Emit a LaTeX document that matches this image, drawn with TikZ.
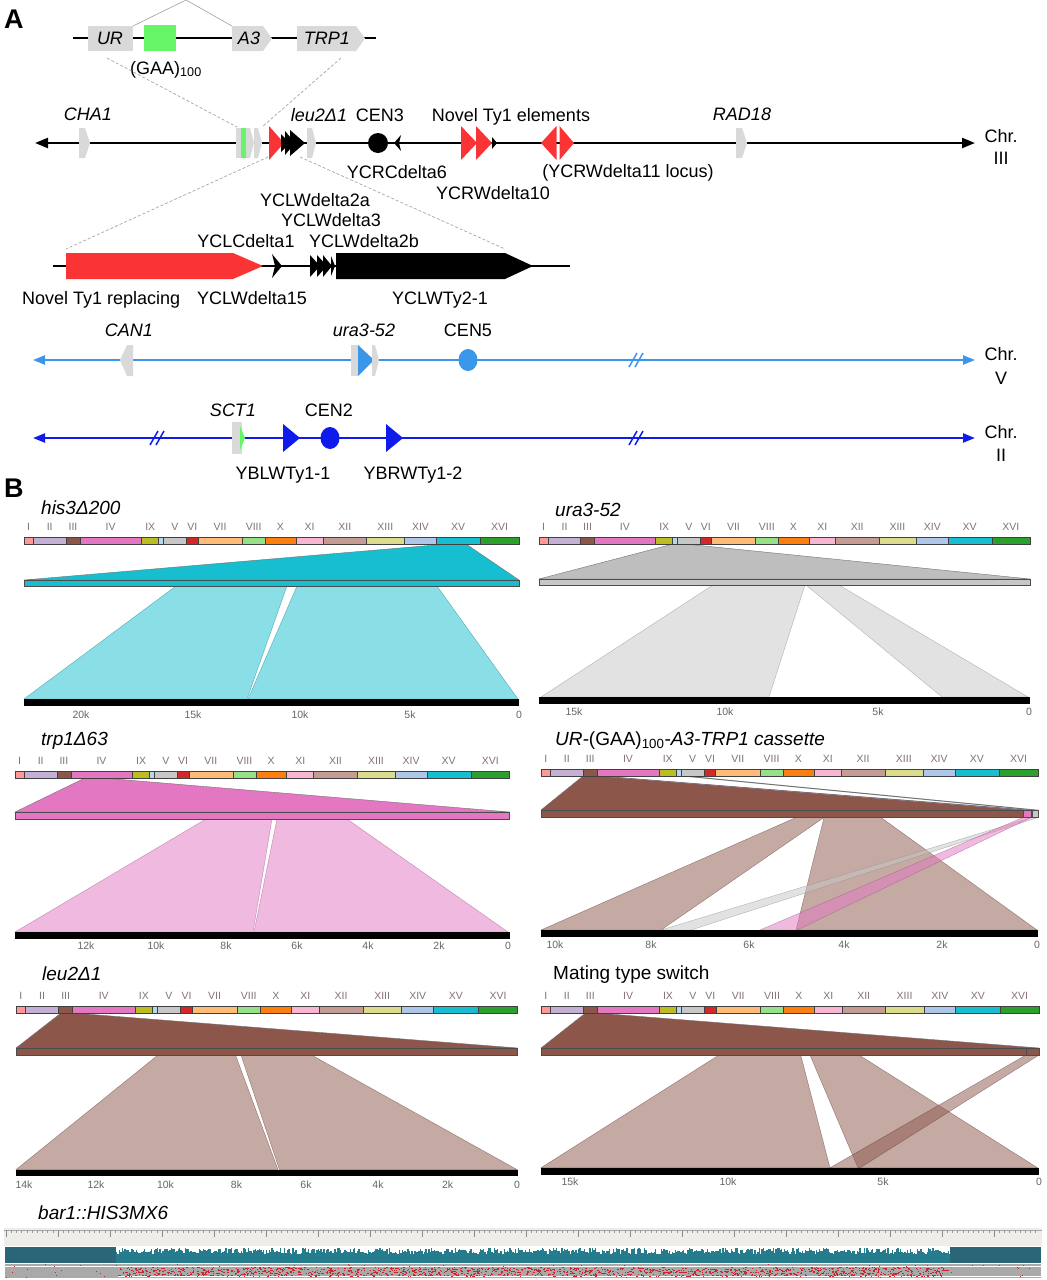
\documentclass[tikz,border=0pt]{standalone}
\usepackage{fontspec}
\setmainfont{Liberation Sans}
\usetikzlibrary{arrows.meta}
\definecolor{cI}{HTML}{FF9896}
\definecolor{cII}{HTML}{C5B0D5}
\definecolor{cIII}{HTML}{8C564B}
\definecolor{cIV}{HTML}{E377C2}
\definecolor{cIX}{HTML}{BCBD22}
\definecolor{cM}{HTML}{B4D8EE}
\definecolor{cV}{HTML}{C7C7C7}
\definecolor{cVI}{HTML}{D62728}
\definecolor{cVII}{HTML}{FFBB78}
\definecolor{cVIII}{HTML}{98DF8A}
\definecolor{cX}{HTML}{FF7F0E}
\definecolor{cXI}{HTML}{F7B6D2}
\definecolor{cXII}{HTML}{C49C94}
\definecolor{cXIII}{HTML}{DBDB8D}
\definecolor{cXIV}{HTML}{AEC7E8}
\definecolor{cXV}{HTML}{17BECF}
\definecolor{cXVI}{HTML}{2CA02C}
\definecolor{romcol}{HTML}{857272}
\definecolor{tickcol}{HTML}{666666}
\definecolor{genegray}{HTML}{D9D9D9}
\definecolor{ggreen}{HTML}{66F566}
\definecolor{tyred}{HTML}{FA3434}
\definecolor{chrV}{HTML}{3A96E8}
\definecolor{chrII}{HTML}{0F1BEA}
\definecolor{igvbg}{HTML}{EFEDE8}
\definecolor{cov}{HTML}{2A6578}
\definecolor{readgray}{HTML}{A9A9A9}
\definecolor{readred}{HTML}{C8282D}
\definecolor{uratop}{HTML}{BEBEBE}
\newcommand\genomebar[5]{%
  \foreach \pa/\pb/\pc in {0/0.019/cI,0.019/0.085/cII,0.085/0.113/cIII,0.113/0.2375/cIV,0.2375/0.272/cIX,0.272/0.282/cM,0.282/0.3283/cV,0.3283/0.3516/cVI,0.3516/0.441/cVII,0.441/0.4874/cVIII,0.4874/0.5495/cX,0.5495/0.6041/cXI,0.6041/0.6922/cXII,0.6922/0.7686/cXIII,0.7686/0.8328/cXIV,0.8328/0.9222/cXV,0.9222/1/cXVI}{%
    \pgfmathsetmacro\xa{#2+(#3-#2)*\pa}%
    \pgfmathsetmacro\xb{#2+(#3-#2)*\pb}%
    \filldraw[fill=\pc,draw=black!75,line width=0.5pt] (\xa,#4) rectangle (\xb,#4+7);
  }%
  \foreach \pp/\pl in {0.0095/I,0.052/II,0.099/III,0.175/IV,0.255/IX,0.305/V,0.34/VI,0.396/VII,0.464/VIII,0.518/X,0.577/XI,0.648/XII,0.730/XIII,0.801/XIV,0.877/XV,0.961/XVI}{%
    \node[roman] (#1-\pl) at ({#2+(#3-#2)*\pp},#5+3.8) {\pl};
  }%
}
\tikzset{
  lab/.style={font=\fontsize{18}{20}\selectfont, inner sep=0pt, anchor=base},
  ilab/.style={lab, font=\fontsize{18}{20}\selectfont\itshape},
  roman/.style={font=\fontsize{10.5}{11}\selectfont, text=romcol, inner sep=0pt, anchor=base},
  tick/.style={font=\fontsize{10.5}{11}\selectfont, text=tickcol, inner sep=0pt, anchor=base},
  ptitle/.style={font=\fontsize{19}{21}\selectfont\itshape, inner sep=0pt, anchor=base west},
  panel/.style={font=\fontsize{27}{28}\selectfont\bfseries, inner sep=0pt, anchor=base west},
  chrline/.style={line width=2.3pt},
  midbar/.style={draw=black!70, line width=0.6pt},
  toppoly/.style={draw=black!55, line width=0.4pt},
  lowpoly/.style={fill opacity=0.5, draw opacity=0.6, line width=0.4pt},
  dashz/.style={gray!70, line width=0.7pt, dash pattern=on 3pt off 2pt},
  brk/.style={line width=1.5pt},
}
\begin{document}
\begin{tikzpicture}[x=1pt,y=-1pt]
\useasboundingbox (0,0) rectangle (1047,1280);
\fill[white] (0,0) rectangle (1047,1280);
\pgfmathsetseed{11}
% ================= Panel A =================
\node[panel] (pA) at (4,28) {A};
% cassette
\coordinate (casL) at (73,38); \coordinate (casR) at (376,38);
\draw[line width=2.3pt] (casL) -- (casR);
\fill[genegray] (88,26) rectangle (133,51);
\fill[ggreen] (144,25) rectangle (176,51);
\fill[genegray] (232,26) -- (263,26) -- (272,38.5) -- (263,51) -- (232,51) -- cycle;
\fill[genegray] (297,26) -- (356,26) -- (365,38.5) -- (356,51) -- (297,51) -- cycle;
\node[ilab] (tUR) at (110,44.5) {UR};
\node[ilab] (tA3) at (249,44.5) {A3};
\node[ilab] (tTRP) at (327,44.5) {TRP1};
\node[lab] (tGAA) at (166,74) {(GAA)\textsubscript{100}};
\draw[gray!75, line width=0.6pt] (133,26) -- (186,0) -- (232,26);
\draw[dashz] (107,58) -- (237,127);
\draw[dashz] (341,58) -- (262,127);
% Chr III
\coordinate (c3L) at (35,143); \coordinate (c3R) at (975,143);
\draw[chrline, {Triangle[length=13pt,width=10pt]}-{Triangle[length=13pt,width=10pt]}] (c3L) -- (c3R);
\fill[genegray] (79,128) -- (85,128) -- (90,143) -- (85,158) -- (79,158) -- cycle;
\fill[genegray] (236,128) rectangle (241,158);
\fill[ggreen] (240.5,128) rectangle (245.5,158);
\fill[genegray] (246,128) -- (250,128) -- (254,143) -- (250,158) -- (246,158) -- cycle;
\fill[genegray] (254,128) -- (258,128) -- (262,143) -- (258,158) -- (254,158) -- cycle;
\fill[tyred] (269,126) -- (284,143) -- (269,160) -- cycle;
\fill[black] (281,134) -- (290,143) -- (281,152) -- cycle;
\fill[black] (285,131) -- (295,143) -- (285,155) -- cycle;
\fill[black] (290,130) -- (305,143) -- (290,156) -- cycle;
\fill[genegray] (307,128) -- (312,128) -- (316,143) -- (312,158) -- (307,158) -- cycle;
\fill[black] (378,143) circle (10);
\fill[black] (394,143) -- (401,135) -- (399,143) -- (401,151) -- cycle;
\fill[tyred] (461,126) -- (477,143) -- (461,160) -- cycle;
\fill[tyred] (476,126) -- (492,143) -- (476,160) -- cycle;
\fill[black] (492,137) -- (497,143) -- (492,149) -- cycle;
\fill[tyred] (541,143) -- (556.5,126) -- (556.5,160) -- cycle;
\fill[tyred] (559.5,126) -- (574,143) -- (559.5,160) -- cycle;
\fill[genegray] (736,128) -- (742,128) -- (747,143) -- (742,158) -- (736,158) -- cycle;
\node[ilab] (tCHA) at (88,120) {CHA1};
\node[ilab] (tleu) at (319,121) {leu2Δ1};
\node[lab] (tCEN3) at (380,121) {CEN3};
\node[lab] (tNovel) at (511,121) {Novel Ty1 elements};
\node[ilab] (tRAD) at (742,120) {RAD18};
\node[lab] (tYCRC6) at (397,178.5) {YCRCdelta6};
\node[lab] (tYCRW10) at (493,199.5) {YCRWdelta10};
\node[lab] (tYCRW11) at (628,177.5) {(YCRWdelta11 locus)};
\node[lab] (tChr3a) at (1001,142.5) {Chr.};
\node[lab] (tChr3b) at (1001,164.5) {III};
% zoom of region
\draw[dashz] (268,157) -- (66,249);
\draw[dashz] (300,157) -- (505,249);
\coordinate (zL) at (53,266); \coordinate (zR) at (570,266);
\draw[line width=2.3pt] (zL) -- (zR);
\fill[tyred] (66,253) -- (233,253) -- (263,266) -- (233,279) -- (66,279) -- cycle;
\fill[black] (272,254) -- (282,266) -- (272,278) -- (275,266) -- cycle;
\fill[black] (310,255) -- (320,266) -- (310,277) -- cycle;
\fill[black] (317,255) -- (327,266) -- (317,277) -- cycle;
\fill[black] (323,255) -- (332,266) -- (323,277) -- cycle;
\fill[black] (331,256) -- (335,266) -- (331,276) -- cycle;
\fill[black] (336,253) -- (505,253) -- (533,266) -- (505,279) -- (336,279) -- cycle;
\node[lab] (tYCLW2a) at (315,206.5) {YCLWdelta2a};
\node[lab] (tYCLW3) at (331,226.5) {YCLWdelta3};
\node[lab] (tYCLW2b) at (364,247) {YCLWdelta2b};
\node[lab] (tYCLC1) at (246,247) {YCLCdelta1};
\node[lab, anchor=base west] (tNovR) at (22,304.5) {Novel Ty1 replacing};
\node[lab, anchor=base west] (tYCLW15) at (197,304.5) {YCLWdelta15};
\node[lab] (tYCLWTy) at (440,304.5) {YCLWTy2-1};
% Chr V
\coordinate (c5L) at (33,360); \coordinate (c5R) at (975,360);
\draw[chrline, chrV, {Triangle[length=12pt,width=9pt]}-{Triangle[length=12pt,width=9pt]}] (c5L) -- (c5R);
\draw[brk, chrV] (629,367) -- (637,353);
\draw[brk, chrV] (635,367) -- (643,353);
\fill[genegray] (120,360) -- (127,345) -- (133,345) -- (133,376) -- (127,376) -- cycle;
\fill[genegray] (351,345) rectangle (358,376);
\fill[chrV] (358,345) -- (374,360) -- (358,376) -- cycle;
\fill[genegray] (372,345) -- (375,345) -- (379,360) -- (375,376) -- (372,376) -- cycle;
\fill[chrV] (468,360) ellipse (9.5 and 11);
\node[ilab] (tCAN) at (129,336.5) {CAN1};
\node[ilab] (tura) at (364,336.5) {ura3-52};
\node[lab] (tCEN5) at (468,336.5) {CEN5};
\node[lab] (tChr5a) at (1001,360.5) {Chr.};
\node[lab] (tChr5b) at (1001,384.5) {V};
% Chr II
\coordinate (c2L) at (33,438); \coordinate (c2R) at (975,438);
\draw[chrline, chrII, {Triangle[length=12pt,width=9pt]}-{Triangle[length=12pt,width=9pt]}] (c2L) -- (c2R);
\draw[brk, chrII] (150,445) -- (158,431);
\draw[brk, chrII] (156,445) -- (164,431);
\draw[brk, chrII] (629,445) -- (637,431);
\draw[brk, chrII] (635,445) -- (643,431);
\fill[genegray] (232,422) rectangle (242,454);
\fill[ggreen] (240,426) -- (245,438) -- (240,450) -- cycle;
\fill[chrII] (283,424) -- (300,438) -- (283,452) -- cycle;
\fill[chrII] (330,438) ellipse (9.5 and 11);
\fill[chrII] (386,424) -- (403,438) -- (386,452) -- cycle;
\node[ilab] (tSCT) at (233,416.5) {SCT1};
\node[lab] (tCEN2) at (329,416) {CEN2};
\node[lab] (tYBL) at (283,479.5) {YBLWTy1-1};
\node[lab] (tYBR) at (413,479.5) {YBRWTy1-2};
\node[lab] (tChr2a) at (1001,438.5) {Chr.};
\node[lab] (tChr2b) at (1001,461.5) {II};
% ================= Panel B =================
\node[panel] (pB) at (4,497.5) {B};
% --- his3 ---
\node[ptitle] (ttHis) at (41,514.5) {his3Δ200};
\fill[cXV, toppoly] (24,580) -- (447,544) -- (466,544) -- (519,580) -- cycle;
\fill[cXV, lowpoly, draw=cXV!70!black] (176,586) -- (287,586) -- (247,699) -- (24,699) -- cycle;
\fill[cXV, lowpoly, draw=cXV!70!black] (297,586) -- (437,586) -- (518,699) -- (248,699) -- cycle;
\filldraw[fill=cXV, midbar] (24,580) rectangle (519,586.5);
\genomebar{g1}{24}{519}{537}{527}
\fill[black] (24,699) rectangle (519,706);
\foreach \tx/\tl in {81/20k,193/15k,300/10k,410/5k,519/0}{\node[tick] (k1-\tl) at (\tx,718.5) {\tl};}
% --- ura3 ---
\node[ptitle] (ttUra) at (555,516.5) {ura3-52};
\fill[uratop, toppoly] (539,579) -- (673,544) -- (685,544) -- (1030,579) -- cycle;
\fill[cV, lowpoly, draw=cV!70!black] (713,585) -- (805,585) -- (769,697) -- (541,697) -- cycle;
\fill[cV, lowpoly, draw=cV!70!black] (806,585) -- (839,585) -- (1028,697) -- (942,697) -- cycle;
\filldraw[fill=cV, midbar] (539,579) rectangle (1030,585);
\genomebar{g2}{539}{1030}{537}{527}
\fill[black] (539,697) rectangle (1030,703.5);
\foreach \tx/\tl in {574/15k,725/10k,878/5k,1029/0}{\node[tick] (k2-\tl) at (\tx,715.5) {\tl};}
% --- trp1 ---
\node[ptitle] (ttTrp) at (41,745) {trp1Δ63};
\fill[cIV, toppoly] (15,812) -- (86,777.5) -- (97,777.5) -- (509.5,812) -- cycle;
\fill[cIV, lowpoly, draw=cIV!70!black] (206,819) -- (272,819) -- (253,932) -- (15,932) -- cycle;
\fill[cIV, lowpoly, draw=cIV!70!black] (277,819) -- (347,819) -- (508,932) -- (254,932) -- cycle;
\filldraw[fill=cIV, midbar] (15,812) rectangle (509.5,819);
\genomebar{g3}{15}{509.5}{771}{760.5}
\fill[black] (15,932) rectangle (509.5,938.5);
\foreach \tx/\tl in {86/12k,156/10k,226/8k,297/6k,368/4k,439/2k,508/0}{\node[tick] (k3-\tl) at (\tx,949.5) {\tl};}
% --- UR cassette ---
\node[ptitle] (ttUR) at (555,745) {UR-\textup{(GAA)\textsubscript{100}}-A3-TRP1 cassette};
\fill[cIII, toppoly] (541,810) -- (583,776) -- (597,776) -- (1023,810) -- cycle;
\fill[cIV, toppoly] (598,776) -- (601,776) -- (1031,810) -- (1024,810) -- cycle;
\fill[cV, toppoly] (681,776) -- (687,776) -- (1038,810) -- (1032,810) -- cycle;
\fill[cIII, lowpoly, draw=cIII!70!black] (796,817.5) -- (824,817.5) -- (661,930) -- (541,930) -- cycle;
\fill[cIII, lowpoly, draw=cIII!70!black] (824,817.5) -- (881,817.5) -- (1037,930) -- (796,930) -- cycle;
\fill[cV, lowpoly, draw=cV!70!black] (1032,817.5) -- (1038,817.5) -- (691,930) -- (661,930) -- cycle;
\fill[cIV, lowpoly, draw=cIV!70!black] (1023,817.5) -- (1031,817.5) -- (797,930) -- (760,930) -- cycle;
\filldraw[fill=cIII, midbar] (541,810) rectangle (1023,817.5);
\filldraw[fill=cIV, midbar] (1023,810) rectangle (1031,817.5);
\filldraw[fill=cV, midbar] (1032,810) rectangle (1038,817.5);
\genomebar{g4}{541}{1038}{769}{758.7}
\fill[black] (541,930) rectangle (1038,937);
\foreach \tx/\tl in {555/10k,651/8k,749/6k,844/4k,942/2k,1037/0}{\node[tick] (k4-\tl) at (\tx,948) {\tl};}
% --- leu2 ---
\node[ptitle] (ttLeu) at (42,980) {leu2Δ1};
\fill[cIII, toppoly] (16,1048) -- (61,1013) -- (73,1013) -- (517.6,1048) -- cycle;
\fill[cIII, lowpoly, draw=cIII!70!black] (158,1055) -- (235.5,1055) -- (278,1169.6) -- (16,1169.6) -- cycle;
\fill[cIII, lowpoly, draw=cIII!70!black] (241,1055) -- (311.5,1055) -- (517,1169.6) -- (279.4,1169.6) -- cycle;
\filldraw[fill=cIII, midbar] (16,1048) rectangle (517.6,1055);
\genomebar{g5}{16}{517.6}{1006}{996}
\fill[black] (16,1169.6) rectangle (517.6,1176);
\foreach \tx/\tl in {24/14k,96/12k,165.5/10k,236.5/8k,306/6k,378/4k,447.6/2k,517/0}{\node[tick] (k5-\tl) at (\tx,1188.4) {\tl};}
% --- Mating type ---
\node[ptitle, font=\fontsize{19}{21}\selectfont] (ttMat) at (553,979) {Mating type switch};
\fill[cIII, toppoly] (541,1048) -- (585.5,1013) -- (596.6,1013) -- (1039,1048) -- cycle;
\fill[cIII, lowpoly, draw=cIII!70!black] (719,1055) -- (800.7,1055) -- (830,1167.8) -- (541,1167.8) -- cycle;
\fill[cIII, lowpoly, draw=cIII!70!black] (810,1055) -- (859,1055) -- (1037.6,1167.8) -- (858,1167.8) -- cycle;
\fill[cIII, lowpoly, draw=cIII!70!black] (1026,1055) -- (1039,1055) -- (860,1167.8) -- (830,1167.8) -- cycle;
\filldraw[fill=cIII, midbar] (541,1048) rectangle (1026,1055);
\filldraw[fill=cIII, midbar] (1026,1048) rectangle (1039,1055);
\genomebar{g6}{541}{1039}{1006}{995.4}
\fill[black] (541,1167.8) rectangle (1039,1174.5);
\foreach \tx/\tl in {570/15k,728/10k,883/5k,1039/0}{\node[tick] (k6-\tl) at (\tx,1185.4) {\tl};}
% --- bar1 IGV ---
\node[ptitle] (ttBar) at (38,1219.5) {bar1::HIS3MX6};
\fill[igvbg] (4,1228) rectangle (1042,1246);
\draw[gray!70, line width=0.5pt] (4,1230) -- (1042,1230);
\foreach \x in {6,11.2,...,1040}{\draw[gray!80, line width=0.35pt] (\x,1230) -- (\x,1233);}
\foreach \x in {6,58,...,1040}{\draw[gray!90, line width=0.5pt] (\x,1230) -- (\x,1237);}
\fill[cov] (5,1247) rectangle (116,1263);
\fill[cov] (950,1247) rectangle (1041,1263);
\foreach \x in {116,117.4,...,949}{%
  \pgfmathsetmacro\hh{1248+6*rnd}%
  \fill[cov!85!cyan] (\x,\hh) rectangle (\x+1.4,1263);
}
\fill[readgray] (5,1264) rectangle (1041,1278);
\draw[white, line width=0.8pt] (5,1266.5) -- (1041,1266.5);
\draw[white, line width=0.8pt] (118,1276) -- (1041,1276);
\foreach \i in {1,...,1400}{%
  \pgfmathsetmacro\rx{118+830*rnd}%
  \pgfmathsetmacro\ry{1267+9*rnd}%
  \fill[readred] (\rx,\ry) rectangle (\rx+1.5,\ry+1);
}
\foreach \i in {1,...,150}{%
  \pgfmathsetmacro\rx{5+1035*rnd}%
  \pgfmathsetmacro\ry{1264+13*rnd}%
  \fill[readred] (\rx,\ry) rectangle (\rx+1,\ry+1);
}
\end{tikzpicture}
\end{document}
